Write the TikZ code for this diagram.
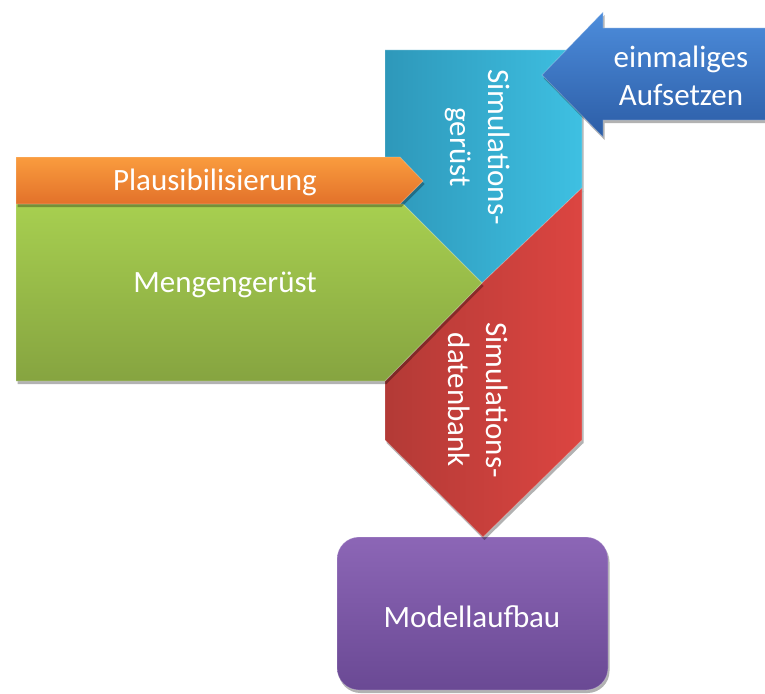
\documentclass[tikz,border=0pt]{standalone}
\usepackage{fontspec}
\setmainfont{Carlito}
\usetikzlibrary{shadows}

\definecolor{cyanL}{HTML}{2E98BA}
\definecolor{cyanR}{HTML}{3EC0E2}
\definecolor{redL}{HTML}{B33A36}
\definecolor{redR}{HTML}{DC4541}
\definecolor{greenT}{HTML}{A7CF50}
\definecolor{greenB}{HTML}{86A440}
\definecolor{orangeT}{HTML}{FA9C3E}
\definecolor{orangeB}{HTML}{E2712A}
\definecolor{blueT}{HTML}{4D8DDC}
\definecolor{blueB}{HTML}{2C5DA6}
\definecolor{purpleT}{HTML}{8C66B6}
\definecolor{purpleB}{HTML}{6A4994}

\begin{document}
\begin{tikzpicture}[x=1pt,y=-1pt,
  txt/.style={text=white, font=\fontsize{31}{38}\selectfont, align=center, inner sep=0pt},
  softshadow/.style={drop shadow={shadow xshift=1.5pt, shadow yshift=-3pt, opacity=0.3, fill=black}},
  edge/.style={draw=white, draw opacity=0.25, line width=0.8pt, line join=round}]
  \useasboundingbox (0,0) rectangle (765,693);

  % result box
  \path[edge, softshadow, top color=purpleT, bottom color=purpleB, rounded corners=22pt]
    (337,537) rectangle (608,690);

  % upper column part
  \path[edge, softshadow, left color=cyanL, right color=cyanR]
    (385,50) -- (582,50) -- (582,188) -- (482,283) -- (403,204) -- (385,204) -- cycle;

  % lower column part with chevron tip
  \path[edge, softshadow, left color=redL, right color=redR]
    (582,188) -- (582,440) -- (483,537) -- (385,440) -- (385,381) -- (482,283) -- cycle;

  % large input arrow
  \path[edge, softshadow, top color=greenT, bottom color=greenB]
    (16,204) -- (403,204) -- (482,283) -- (385,381) -- (16,381) -- cycle;

  % thin input arrow
  \path[edge, softshadow, top color=orangeT, bottom color=orangeB]
    (16,157) -- (400,157) -- (423,181) -- (400,204) -- (16,204) -- cycle;

  % arrow from the right
  \path[edge, softshadow, top color=blueT, bottom color=blueB]
    (542,75) -- (603,12) -- (603,28) -- (766,28) -- (766,120) -- (603,120) -- (603,137) -- cycle;

  % labels
  \node[txt] (plaus) at (215,182) {Plausibilisierung};
  \node[txt] (meng) at (225,285) {Mengengerüst};
  \node[txt] (einm) at (681,76) {einmaliges\\Aufsetzen};
  \node[txt, rotate=-90] (simg) at (478,147) {Simulations-\\gerüst};
  \node[txt, rotate=-90] (simd) at (478,400) {Simulations-\\datenbank};
  \node[txt] (modell) at (472,617) {Modellaufbau};
\end{tikzpicture}
\end{document}
